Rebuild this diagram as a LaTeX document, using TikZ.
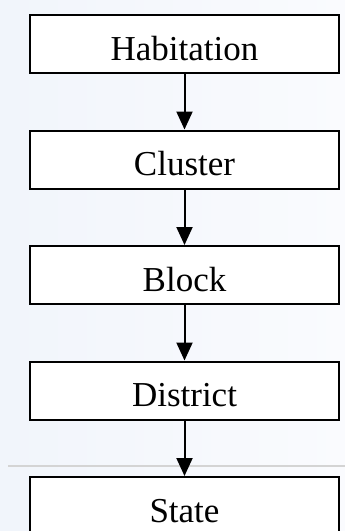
\documentclass[tikz,border=0pt]{standalone}
\usepackage{fontspec}
\setmainfont{Liberation Serif}
\usetikzlibrary{arrows.meta}
\begin{document}
\begin{tikzpicture}[x=1pt,y=-1pt,
  levelbox/.style={draw=black, line width=2pt, fill=white, minimum width=309pt, minimum height=58pt,
    inner sep=0pt, text height=32pt, text depth=0pt, font=\fontsize{35}{40}\selectfont},
  flow/.style={line width=2pt, -{Triangle[length=18pt,width=16pt]}}]
\useasboundingbox (0,0) rectangle (345,531);
\shade[left color={rgb,255:red,241;green,245;blue,251}, right color={rgb,255:red,250;green,251;blue,254}] (0,0) rectangle (345,531);
\draw[line width=1.5pt, draw={rgb,255:red,212;green,212;blue,212}] (8,466) -- (345,466);
\node[levelbox] (hab) at (184.5,44) {Habitation};
\node[levelbox] (clu) at (184.5,159.5) {Cluster};
\node[levelbox] (blo) at (184.5,275) {Block};
\node[levelbox] (dis) at (184.5,390.5) {District};
\node[levelbox] (sta) at (184.5,506) {State};
\draw[flow] (hab.south) -- (clu.north);
\draw[flow] (clu.south) -- (blo.north);
\draw[flow] (blo.south) -- (dis.north);
\draw[flow] (dis.south) -- (sta.north);
\end{tikzpicture}
\end{document}
